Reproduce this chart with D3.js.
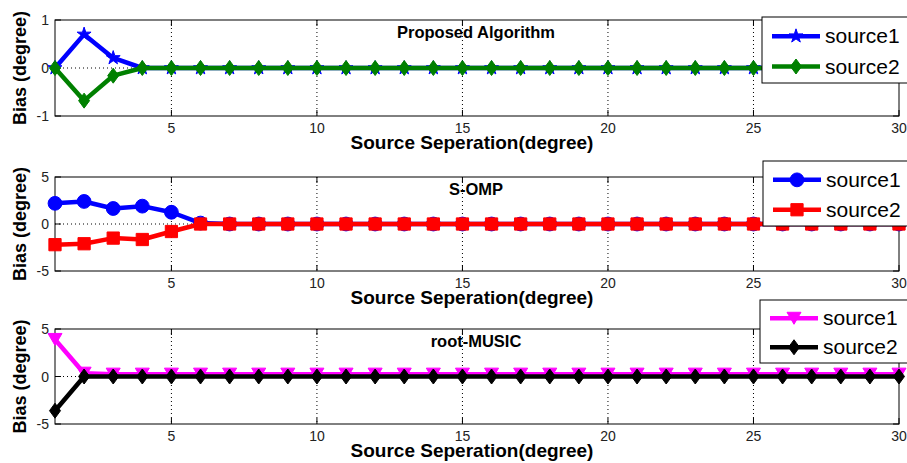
<!DOCTYPE html>
<html>
<head>
<meta charset="utf-8">
<script src="https://cdn.jsdelivr.net/npm/d3@7/dist/d3.min.js"></script>
<style>
  html, body { margin: 0; padding: 0; background: #fff; }
  svg { display: block; font-family: Arial, "Liberation Sans", sans-serif; }
</style>
</head>
<body>
<svg id="chart" width="907" height="463"></svg>
<script>
// Source separation in degrees (x axis)
const separation = [1,2,3,4,5,6,7,8,9,10,11,12,13,14,15,16,17,18,19,20,21,22,23,24,25,26,27,28,29,30];
const xTicks = [5, 10, 15, 20, 25, 30];

// Proposed algorithm bias (degree)
const proposedSource1 = [0,0.70,0.21,0,0,0,0,0,0,0,0,0,0,0,0,0,0,0,0,0,0,0,0,0,0,0,0,0,0,0];
const proposedSource2 = [0,-0.68,-0.16,0,0,0,0,0,0,0,0,0,0,0,0,0,0,0,0,0,0,0,0,0,0,0,0,0,0,0];

// S-OMP bias (degree)
const sompSource1 = [2.2,2.4,1.65,1.9,1.25,0.1,0,0,0,0,0,0,0,0,0,0,0,0,0,0,0,0,0,0,0,0,0,0,0,0];
const sompSource2 = [-2.2,-2.1,-1.5,-1.65,-0.8,0,0,0,0,0,0,0,0,0,0,0,0,0,0,0,0,0,0,0,0,0,0,0,0,0];

// root-MUSIC bias (degree)
const musicSource1 = [3.9,0.35,0.25,0.25,0.25,0.25,0.25,0.25,0.25,0.25,0.25,0.25,0.25,0.25,0.25,0.25,0.25,0.25,0.25,0.25,0.25,0.25,0.25,0.25,0.25,0.25,0.25,0.25,0.25,0.25];
const musicSource2 = [-3.6,0,0,0,0,0,0,0,0,0,0,0,0,0,0,0,0,0,0,0,0,0,0,0,0,0,0,0,0,0];

const seriesNames = ["source1", "source2"];
const panelTitles = ["Proposed Algorithm", "S-OMP", "root-MUSIC"];
const yDomains = [[-1, 1], [-5, 5], [-5, 5]];
const yTickValues = [[-1, 0, 1], [-5, 0, 5], [-5, 0, 5]];
const xLabel = "Source Seperation(degree)";
const yLabel = "Bias (degree)";

const svg = d3.select("#chart");

const x = d3.scaleLinear().domain([1, 30]).range([55, 899]);

// symbol generators
const star = d3.symbol().type(d3.symbolStar).size(60);
const diamond = "M0,-7.5L5.5,0L0,7.5L-5.5,0Z";
const circle = d3.symbol().type(d3.symbolCircle).size(150);
const square = d3.symbol().type(d3.symbolSquare).size(150);
const triDown = "M-7,-6L7,-6L0,6Z";

const panels = [
  {
    top: 20, bottom: 116,
    series: [
      { values: proposedSource1, color: "#0000ff", marker: star() },
      { values: proposedSource2, color: "#008000", marker: diamond }
    ],
    legend: { x: 762, y: 17, w: 160, h: 66 }
  },
  {
    top: 177, bottom: 271,
    series: [
      { values: sompSource1, color: "#0000ff", marker: circle() },
      { values: sompSource2, color: "#ff0000", marker: square() }
    ],
    legend: { x: 763, y: 161, w: 160, h: 65 }
  },
  {
    top: 329, bottom: 424,
    series: [
      { values: musicSource1, color: "#ff00ff", marker: triDown },
      { values: musicSource2, color: "#000000", marker: diamond }
    ],
    legend: { x: 760, y: 300, w: 160, h: 63 }
  }
];

panels.forEach((p, i) => {
  const y = d3.scaleLinear().domain(yDomains[i]).range([p.bottom, p.top]);
  const g = svg.append("g");
  const [x0, x1] = x.range();

  const clipId = "clip" + i;
  svg.append("clipPath").attr("id", clipId)
    .append("rect").attr("x", x0 - 8).attr("y", p.top - 10)
    .attr("width", x1 - x0 + 16).attr("height", p.bottom - p.top + 20);

  // dotted grid
  g.selectAll(".vgrid").data(xTicks.filter(t => t < 30)).enter().append("line")
    .attr("x1", d => x(d)).attr("x2", d => x(d))
    .attr("y1", p.top).attr("y2", p.bottom)
    .attr("stroke", "#000").attr("stroke-width", 1)
    .attr("stroke-dasharray", "1,3");
  g.selectAll(".hgrid").data(yTickValues[i].slice(1, -1)).enter().append("line")
    .attr("x1", x0).attr("x2", x1)
    .attr("y1", d => y(d)).attr("y2", d => y(d))
    .attr("stroke", "#000").attr("stroke-width", 1)
    .attr("stroke-dasharray", "1,3");

  // plot box
  g.append("rect").attr("x", x0).attr("y", p.top)
    .attr("width", x1 - x0).attr("height", p.bottom - p.top)
    .attr("fill", "none").attr("stroke", "#000").attr("stroke-width", 1);

  // inward ticks, bottom/top and left/right
  xTicks.forEach(t => {
    g.append("line").attr("x1", x(t)).attr("x2", x(t))
      .attr("y1", p.bottom).attr("y2", p.bottom - 6).attr("stroke", "#000");
    g.append("line").attr("x1", x(t)).attr("x2", x(t))
      .attr("y1", p.top).attr("y2", p.top + 6).attr("stroke", "#000");
  });
  yTickValues[i].forEach(t => {
    g.append("line").attr("x1", x0).attr("x2", x0 + 6)
      .attr("y1", y(t)).attr("y2", y(t)).attr("stroke", "#000");
    g.append("line").attr("x1", x1).attr("x2", x1 - 6)
      .attr("y1", y(t)).attr("y2", y(t)).attr("stroke", "#000");
  });

  // tick labels
  g.selectAll(".xt").data(xTicks).enter().append("text")
    .attr("x", d => x(d)).attr("y", p.bottom + 17)
    .attr("text-anchor", "middle").attr("font-size", 14).attr("fill", "#222")
    .text(d => d);
  g.selectAll(".yt").data(yTickValues[i]).enter().append("text")
    .attr("x", 49).attr("y", d => y(d) + 5)
    .attr("text-anchor", "end").attr("font-size", 14).attr("fill", "#222")
    .text(d => d);

  // axis labels
  g.append("text").attr("x", 472).attr("y", p.bottom + 33)
    .attr("text-anchor", "middle").attr("font-size", 19).attr("font-weight", "bold")
    .text(xLabel);
  g.append("text")
    .attr("transform", `translate(26,${(p.top + p.bottom) / 2}) rotate(-90)`)
    .attr("text-anchor", "middle").attr("font-size", 18).attr("font-weight", "bold")
    .text(yLabel);

  // title inside the axes
  g.append("text").attr("x", 476).attr("y", p.top + 18)
    .attr("text-anchor", "middle").attr("font-size", 16.5).attr("font-weight", "bold")
    .text(panelTitles[i]);

  // series
  const line = d3.line().x((d, j) => x(separation[j])).y(d => y(d));
  const data = svg.append("g").attr("clip-path", `url(#${clipId})`);
  p.series.forEach(s => {
    data.append("path").datum(s.values)
      .attr("d", line).attr("fill", "none")
      .attr("stroke", s.color).attr("stroke-width", 4.5)
      .attr("stroke-linejoin", "round");
    data.selectAll(null).data(s.values).enter().append("path")
      .attr("transform", (d, j) => `translate(${x(separation[j])},${y(d)})`)
      .attr("d", s.marker).attr("fill", s.color).attr("stroke", s.color);
  });

  // legend
  const L = p.legend;
  const lg = svg.append("g");
  lg.append("rect").attr("x", L.x).attr("y", L.y).attr("width", L.w).attr("height", L.h)
    .attr("fill", "#fff").attr("stroke", "#000").attr("stroke-width", 1);
  p.series.forEach((s, k) => {
    const cy = L.y + L.h * (k === 0 ? 0.29 : 0.75);
    lg.append("line").attr("x1", L.x + 10).attr("x2", L.x + 58)
      .attr("y1", cy).attr("y2", cy)
      .attr("stroke", s.color).attr("stroke-width", 4.5);
    lg.append("path").attr("transform", `translate(${L.x + 34},${cy})`)
      .attr("d", s.marker).attr("fill", s.color).attr("stroke", s.color);
    lg.append("text").attr("x", L.x + 63).attr("y", cy + 7)
      .attr("font-size", 21).attr("fill", "#000")
      .text(seriesNames[k]);
  });
});
</script>
</body>
</html>
